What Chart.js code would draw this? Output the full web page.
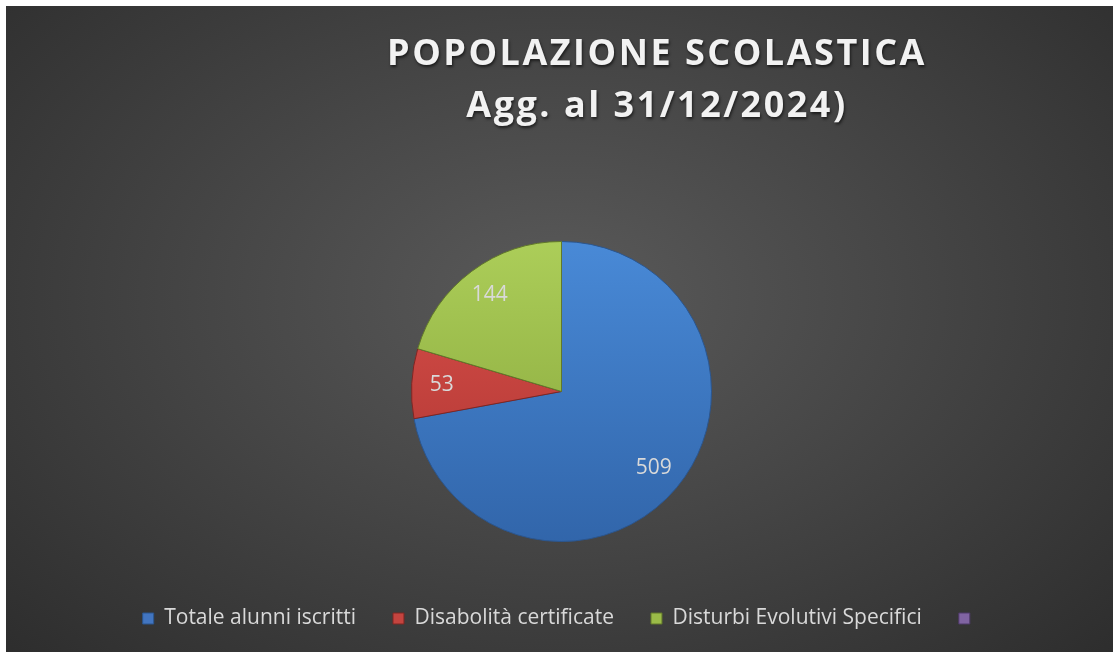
<!DOCTYPE html>
<html>
<head>
<meta charset="utf-8">
<script src="https://cdn.jsdelivr.net/npm/chart.js@4/dist/chart.umd.min.js"></script>
<style>
  html, body { margin: 0; padding: 0; background: #fff; }
  #wrap {
    position: absolute; left: 6px; top: 6px; width: 1107px; height: 646px;
    background: radial-gradient(ellipse 75% 85% at 50% 45%, #5a5a5a 0%, #474747 40%, #2a2a2a 100%);
    overflow: hidden;
  }
  #title {
    position: absolute; left: 351px; top: 20px; width: 600px;
    text-align: center; color: #f2f2f2;
    font-family: "Open Sans", sans-serif; font-weight: bold; font-size: 36px;
    line-height: 52px; letter-spacing: 2.5px;
    text-shadow: 1px 2px 3px rgba(0,0,0,0.6);
  }
  canvas { position: absolute; left: 0; top: 0; }
</style>
</head>
<body>
<div id="wrap">
  <canvas id="pieChart" width="1107" height="646"></canvas>
  <div id="title">POPOLAZIONE SCOLASTICA<br>Agg. al 31/12/2024)</div>
</div>
<script>
// values
const categories = ["Totale alunni iscritti", "Disabolità certificate", "Disturbi Evolutivi Specifici", ""];
const values = [509, 53, 144, null];

const baseColors = ["#4275c0", "#c4443f", "#9bbb48", "#8064a2"];
const topColors = ["#4b8ddb", "#e0544f", "#b0d25c", "#9a7fc0"];
const bottomColors = ["#2f62a6", "#a5302c", "#7f9d35", "#654a87"];
const edgeColors = ["#2b568f", "#7f2623", "#62792a", "#4f3a6a"];

function sliceFill(ctx) {
    const chart = ctx.chart;
    const i = ctx.dataIndex;
    const area = chart.chartArea;
    if (!area) return baseColors[i];
    const g = chart.ctx.createLinearGradient(0, area.top, 0, area.bottom);
    g.addColorStop(0, topColors[i]);
    g.addColorStop(1, bottomColors[i]);
    return g;
}

// draws the value inside each slice
const sliceLabels = {
    id: "sliceLabels",
    afterDatasetsDraw(chart) {
        const c = chart.ctx;
        const meta = chart.getDatasetMeta(0);
        c.save();
        c.font = "21px 'Open Sans', sans-serif";
        c.fillStyle = "#d9d9d9";
        c.textAlign = "center";
        c.textBaseline = "middle";
        meta.data.forEach((arc, i) => {
            const v = values[i];
            if (v == null) return;
            const p = arc.getProps(["x", "y", "startAngle", "endAngle", "outerRadius"], true);
            const mid = (p.startAngle + p.endAngle) / 2;
            const r = p.outerRadius * 0.8;
            c.fillText(String(v), p.x + Math.cos(mid) * r, p.y + Math.sin(mid) * r);
        });
        c.restore();
    }
};

new Chart(document.getElementById("pieChart"), {
    type: "pie",
    data: {
        labels: categories,
        datasets: [{
            data: values,
            backgroundColor: sliceFill,
            borderColor: edgeColors,
            borderWidth: 1
        }]
    },
    options: {
        responsive: false,
        animation: false,
        radius: 150,
        layout: { padding: { top: 206, bottom: 13, left: 4 } },
        plugins: {
            tooltip: { enabled: false },
            legend: {
                position: "bottom",
                labels: {
                    color: "#d9d9d9",
                    font: { family: "'Open Sans', sans-serif", size: 21 },
                    boxWidth: 11,
                    boxHeight: 11,
                    padding: 37,
                    generateLabels(chart) {
                        return categories.map((name, i) => ({
                            text: name,
                            fillStyle: baseColors[i],
                            strokeStyle: edgeColors[i],
                            lineWidth: 1,
                            fontColor: "#d9d9d9",
                            hidden: false,
                            index: i
                        }));
                    }
                }
            }
        }
    },
    plugins: [sliceLabels]
});
</script>
</body>
</html>
